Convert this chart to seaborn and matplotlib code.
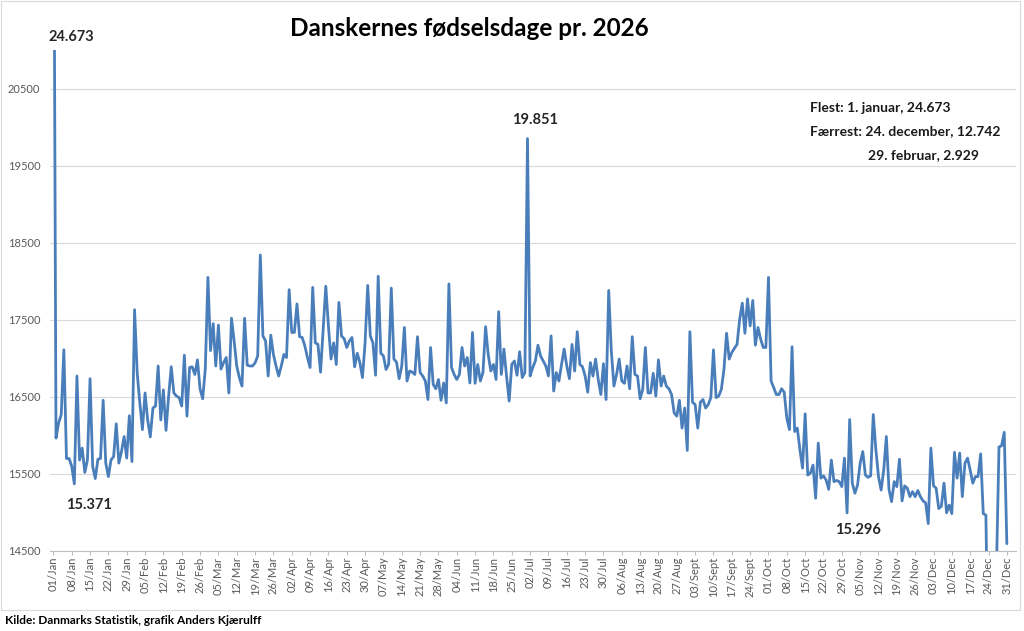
import pandas as pd
import seaborn as sns
import matplotlib.pyplot as plt
from matplotlib.patches import Rectangle

# antal personer med fødselsdag pr. kalenderdag
jan = [24673, 15965, 16160, 16270, 17110, 15700, 15700, 15600, 15371, 16770,
       15680, 15835, 15520, 15680, 16735, 15600, 15440, 15690, 15700, 16455,
       15640, 15465, 15680, 15725, 16150, 15640, 15790, 15985, 15705, 16255, 15660]
feb = [17630, 16810, 16420, 16075, 16550, 16200, 15980, 16355, 16380, 16900,
       16200, 16590, 16065, 16510, 16890, 16550, 16510, 16490, 16380, 17040,
       16250, 16880, 16890, 16790, 16980, 16600, 16475, 16860]
mar = [18050, 17100, 17450, 16900, 17430, 16860, 16945, 17010, 16550, 17520,
       17225, 16900, 16750, 16640, 17520, 16910, 16900, 16900, 16940, 17030,
       18340, 17290, 17225, 16770, 17300, 17050, 16900, 16770, 16900, 17050, 17010]
apr = [17890, 17335, 17335, 17705, 17280, 17270, 17160, 17010, 16880, 17920,
       17200, 17180, 16820, 17380, 17935, 17420, 16990, 17200, 16920, 17725,
       17290, 17255, 17140, 17225, 17270, 16890, 17065, 16945, 16750, 17200]
maj = [17945, 17290, 17200, 16780, 18065, 17065, 17030, 16855, 16920, 17910,
       16990, 16950, 16735, 16900, 17400, 16705, 16835, 16820, 16790, 17280,
       16815, 16770, 16705, 16465, 17140, 16660, 16605, 16725, 16455, 16680, 16420]
jun = [17965, 16880, 16790, 16725, 16790, 17140, 16900, 17010, 16680, 17335,
       16675, 16920, 16705, 16815, 17410, 17050, 16835, 16920, 16725, 17605,
       16790, 17120, 16770, 16445, 16920, 16965, 16780, 17085, 16750, 16815]
jul = [19851, 16770, 16880, 16965, 17170, 17030, 16965, 16900, 16770, 17290,
       16575, 16815, 16705, 16920, 17120, 16900, 16735, 17180, 16835, 17345,
       16920, 16890, 16770, 16560, 16945, 16770, 16990, 16725, 16530, 16930, 16465]
aug = [17880, 17095, 16640, 16790, 16990, 16705, 16675, 16900, 16605, 17280,
       16790, 16770, 16475, 16595, 17140, 16550, 16550, 16805, 16510, 16980,
       16640, 16770, 16640, 16605, 16530, 16290, 16250, 16455, 16095, 16355, 15805]
sep = [17345, 16430, 16400, 16095, 16430, 16465, 16355, 16400, 16490, 17110,
       16490, 16510, 16595, 16855, 17325, 16990, 17075, 17130, 17180, 17505,
       17715, 17325, 17770, 17420, 17750, 17170, 17400, 17250, 17140, 17140]
okt = [18050, 16705, 16620, 16530, 16530, 16605, 16560, 16225, 16075, 17150,
       16050, 16095, 15815, 15575, 16280, 15485, 15510, 15615, 15185, 15900,
       15445, 15475, 15420, 15300, 15680, 15400, 15415, 15400, 15335, 15705, 14995]
nov = [16205, 15380, 15250, 15355, 15640, 15790, 15485, 15455, 15475, 16270,
       15815, 15465, 15290, 15550, 15985, 15300, 15140, 15400, 15335, 15690,
       15150, 15345, 15315, 15205, 15270, 15205, 15285, 15205, 15150, 15125]
dec = [14855, 15835, 15345, 15315, 15050, 15080, 15380, 14995, 15095, 14985,
       15780, 15445, 15770, 15205, 15640, 15705, 15550, 15380, 15465, 15465,
       15760, 14985, 14965, 12742, 13400, 13900, 14200, 15850, 15865, 16040, 14595]

tick_labels = ["01/Jan", "08/Jan", "15/Jan", "22/Jan", "29/Jan", "05/Feb", "12/Feb",
               "19/Feb", "26/Feb", "05/Mar", "12/Mar", "19/Mar", "26/Mar", "02/Apr",
               "09/Apr", "16/Apr", "23/Apr", "30/Apr", "07/May", "14/May", "21/May",
               "28/May", "04/Jun", "11/Jun", "18/Jun", "25/Jun", "02/Jul", "09/Jul",
               "16/Jul", "23/Jul", "30/Jul", "06/Aug", "13/Aug", "20/Aug", "27/Aug",
               "03/Sept", "10/Sept", "17/Sept", "24/Sept", "01/Oct", "08/Oct",
               "15/Oct", "22/Oct", "29/Oct", "05/Nov", "12/Nov", "19/Nov", "26/Nov",
               "03/Dec", "10/Dec", "17/Dec", "24/Dec", "31/Dec"]
y_ticks = [14500, 15500, 16500, 17500, 18500, 19500, 20500]

dage = jan + feb + mar + apr + maj + jun + jul + aug + sep + okt + nov + dec
df = pd.DataFrame({"dag": range(len(dage)), "antal": dage})

sns.set_theme(style="white")
plt.rcParams['font.family'] = ['Lato', 'DejaVu Sans']

fig = plt.figure(figsize=(10.24, 6.31), dpi=100)
ax = fig.add_axes([0.0488, 0.1268, 0.9434, 0.794])

sns.lineplot(data=df, x="dag", y="antal", ax=ax, color="#4A7EBB", linewidth=2.0)

ax.set_xlim(-1.3, 367.5)
ax.set_ylim(14500, 21000)
ax.set_yticks(y_ticks)
ax.set_xticks(range(0, 365, 7))
ax.set_xticklabels(tick_labels, rotation=90)
ax.set_xlabel("")
ax.set_ylabel("")
ax.grid(axis='y', color='#D9D9D9', linewidth=0.8)
for s in ['top', 'right', 'left']:
    ax.spines[s].set_visible(False)
ax.spines['bottom'].set_color('#BFBFBF')
ax.spines['bottom'].set_linewidth(0.8)
ax.tick_params(axis='x', length=3, width=0.8, color='#BFBFBF', labelcolor='#595959',
               labelsize=8, pad=1, bottom=True)
ax.tick_params(axis='y', length=0, labelcolor='#595959', labelsize=8, pad=7)

# titel og tekster
fig.text(469/1024, 1-28/631, "Danskernes fødselsdage pr. 2026", ha='center', va='center',
         fontsize=17.5, fontweight='bold', color='black')
fig.text(71/1024, 1-37/631, "24.673", ha='center', va='center', fontsize=10.5, fontweight='bold')
fig.text(89/1024, 1-505/631, "15.371", ha='center', va='center', fontsize=10.5, fontweight='bold')
fig.text(535/1024, 1-120/631, "19.851", ha='center', va='center', fontsize=10.5, fontweight='bold')
fig.text(858/1024, 1-530/631, "15.296", ha='center', va='center', fontsize=10.5, fontweight='bold')

fig.text(810/1024, 1-108/631, "Flest: 1. januar, 24.673", ha='left', va='center',
         fontsize=10, fontweight='bold', color='#1a1a1a')
fig.text(810/1024, 1-131/631, "Færrest: 24. december, 12.742", ha='left', va='center',
         fontsize=10, fontweight='bold', color='#1a1a1a')
fig.text(868/1024, 1-155/631, "29. februar, 2.929", ha='left', va='center',
         fontsize=10, fontweight='bold', color='#1a1a1a')

fig.text(5/1024, 1-621/631, "Kilde: Danmarks Statistik, grafik Anders Kjærulff", ha='left',
         va='center', fontsize=8.6, fontweight='bold', color='black')

fig.patches.append(Rectangle((1/1024, 1-610/631), 1019/1024, 609/631,
                             transform=fig.transFigure, fill=False,
                             edgecolor='#D9D9D9', linewidth=0.8))

fig.savefig("out.png", dpi=100)
